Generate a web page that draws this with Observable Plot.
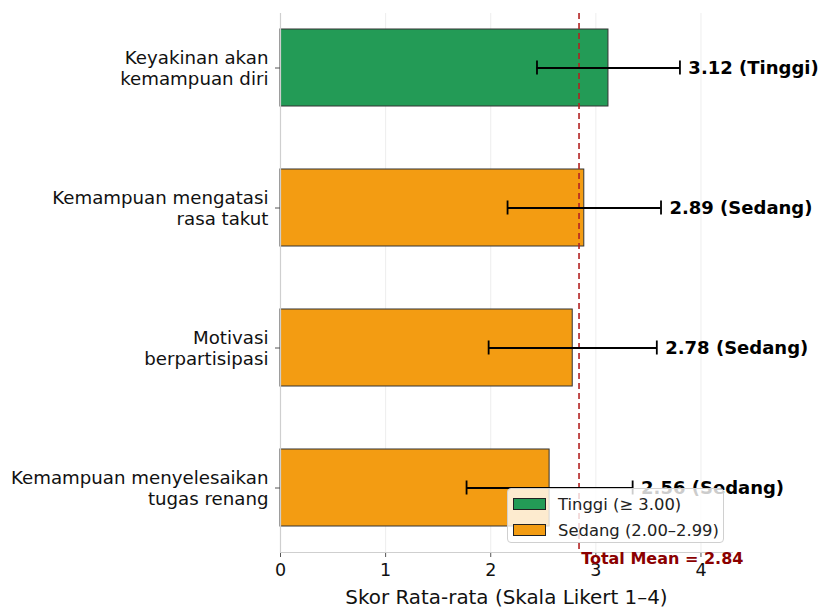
<!DOCTYPE html>
<html>
<head>
<meta charset="utf-8">
<script src="https://cdn.jsdelivr.net/npm/d3@7"></script>
<script src="https://cdn.jsdelivr.net/npm/@observablehq/plot@0.6"></script>
<style>
  html, body { margin: 0; padding: 0; background: #fff; }
  #wrap { position: relative; width: 820px; height: 608px; font-family: "DejaVu Sans", sans-serif; }
  #legend { position: absolute; left: 507px; top: 488px; width: 215px; height: 53px;
    background: rgba(255,255,255,0.8); border: 1px solid #d0d0d0; border-radius: 4px; }
  .row { position: absolute; left: 5px; height: 20px; display: flex; align-items: center; font-size: 16.4px; color: #222; }
  .sw { width: 31px; height: 10px; border: 1.5px solid #222; margin-right: 12px; }
</style>
</head>
<body>
<div id="wrap"></div>
<script>
const categories = [
  "Keyakinan akan\nkemampuan diri",
  "Kemampuan mengatasi\nrasa takut",
  "Motivasi\nberpartisipasi",
  "Kemampuan menyelesaikan\ntugas renang"
];
const means = [3.12, 2.89, 2.78, 2.56];
const sds = [0.68, 0.73, 0.80, 0.79];
const levels = ["Tinggi", "Sedang", "Sedang", "Sedang"];
const totalMean = 2.84;
const xTicks = [0, 1, 2, 3, 4];
const levelNames = ["Tinggi", "Sedang"];
const levelLabels = ["Tinggi (≥ 3.00)", "Sedang (2.00–2.99)"];
const levelColors = ["#239b56", "#f39c12"];

const data = categories.map((c, i) => ({
  cat: c, mean: means[i], sd: sds[i], level: levels[i],
  lo: means[i] - sds[i], hi: means[i] + sds[i],
  label: `${means[i].toFixed(2)} (${levels[i]})`
}));

const chart = Plot.plot({
  width: 820,
  height: 608,
  marginLeft: 280,
  marginRight: 88,
  marginTop: 13,
  marginBottom: 56,
  style: { fontFamily: "DejaVu Sans, sans-serif", background: "#fff" },
  x: { domain: [0, 4.3], ticks: xTicks },
  y: { domain: categories, range: [-3.75, 558.25], paddingInner: 0.45, paddingOuter: 0.225 },
  color: { domain: levelNames, range: levelColors },
  marks: [
    Plot.ruleX(xTicks.slice(1), { stroke: "#000", strokeOpacity: 0.07 }),
    Plot.barX(data, { x: "mean", y: "cat", fill: "level", stroke: "#333", strokeWidth: 1 }),
    Plot.ruleX([totalMean], { stroke: "#b22222", strokeWidth: 1.6, strokeDasharray: "6,4" }),
    Plot.ruleY(data, { x1: "lo", x2: "hi", y: "cat", stroke: "#000", strokeWidth: 1.8 }),
    Plot.tickX(data, { x: "lo", y: "cat", stroke: "#000", strokeWidth: 1.8, insetTop: 31.5, insetBottom: 31.5 }),
    Plot.tickX(data, { x: "hi", y: "cat", stroke: "#000", strokeWidth: 1.8, insetTop: 31.5, insetBottom: 31.5 }),
    Plot.text(data, { x: d => d.hi + 0.08, y: "cat", text: "label", textAnchor: "start",
      fontSize: 18, fontWeight: "bold", fill: "#000" }),
    Plot.ruleX([0], { stroke: "#cfcfcf", strokeWidth: 1.2 }),
    Plot.axisY({ tickSize: 5, tickPadding: 7, fontSize: 18.2, lineHeight: 1.12, label: null,
      stroke: "#555", fill: "#111" }),
    Plot.axisX({ ticks: xTicks, tickFormat: "d", tickSize: 5, tickPadding: 6, fontSize: 17.5, label: null,
      stroke: "#555", fill: "#111" }),
    Plot.frame({ anchor: "bottom", stroke: "#cfcfcf", strokeWidth: 1.2 }),
    Plot.text([totalMean], { x: d => d + 0.02, frameAnchor: "bottom", dy: 6, textAnchor: "start",
      lineAnchor: "middle", text: d => `Total Mean = ${d.toFixed(2)}`, fontSize: 16, fontWeight: "bold", fill: "#8b0000" }),
    Plot.text(["Skor Rata-rata (Skala Likert 1–4)"], { frameAnchor: "bottom", dy: 45, lineAnchor: "middle",
      text: d => d, fontSize: 19.9, fill: "#111" })
  ]
});

const wrap = document.getElementById("wrap");
wrap.appendChild(chart);

const legend = document.createElement("div");
legend.id = "legend";
levelLabels.forEach((lab, i) => {
  const row = document.createElement("div");
  row.className = "row";
  row.style.top = (5 + i * 26) + "px";
  const sw = document.createElement("span");
  sw.className = "sw";
  sw.style.background = levelColors[i];
  const t = document.createElement("span");
  t.textContent = lab;
  row.appendChild(sw);
  row.appendChild(t);
  legend.appendChild(row);
});
wrap.appendChild(legend);
</script>
</body>
</html>
